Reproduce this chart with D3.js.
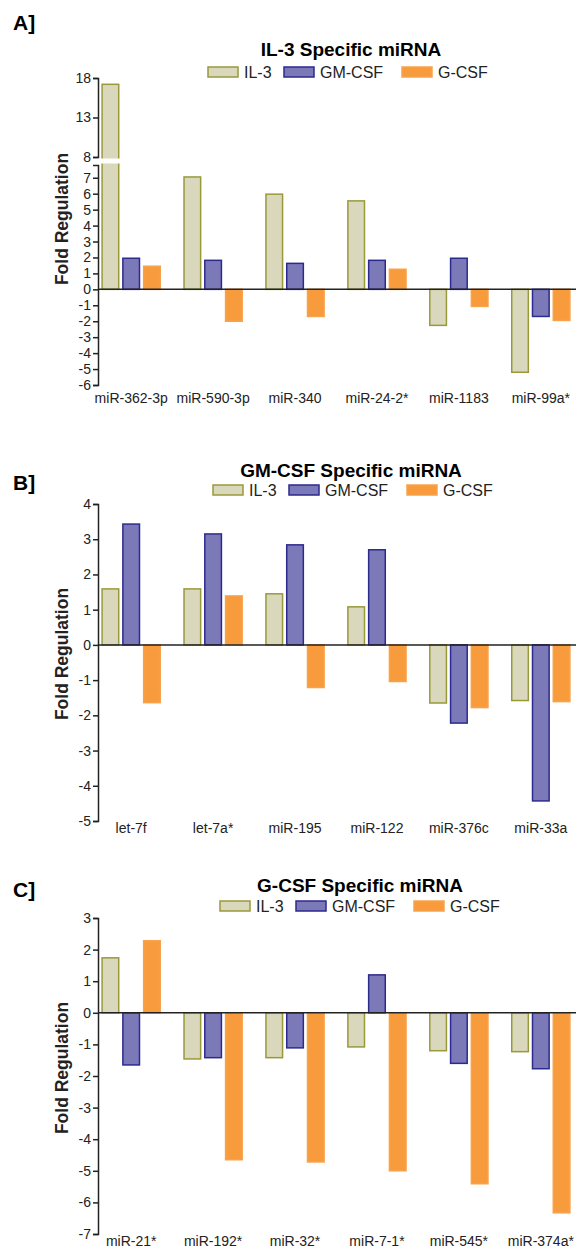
<!DOCTYPE html>
<html>
<head>
<meta charset="utf-8">
<script src="https://cdn.jsdelivr.net/npm/d3@7"></script>
<style>
  body { margin: 0; background: #fff; }
  text { font-family: "Liberation Sans", Arial, sans-serif; }
</style>
</head>
<body>
<div id="chart"></div>
<script>
const seriesNames = ["IL-3", "GM-CSF", "G-CSF"];
const fills = ["#d9d8bc", "#7c79b9", "#f89b3c"];
const strokes = ["#9a993a", "#2d2a8f", "#f7a24c"];

// panel A
const catsA = ["miR-362-3p", "miR-590-3p", "miR-340", "miR-24-2*", "miR-1183", "miR-99a*"];
const il3A = [17.2, 7.05, 5.97, 5.55, -2.26, -5.2];
const gmA = [1.95, 1.82, 1.63, 1.82, 1.95, -1.7];
const gcsfA = [1.45, -2.0, -1.7, 1.26, -1.07, -1.95];
const ticksAUpper = [8, 13, 18];
const ticksALower = [-6, -5, -4, -3, -2, -1, 0, 1, 2, 3, 4, 5, 6, 7];

// panel B
const catsB = ["let-7f", "let-7a*", "miR-195", "miR-122", "miR-376c", "miR-33a"];
const il3B = [1.59, 1.59, 1.45, 1.08, -1.65, -1.58];
const gmB = [3.43, 3.15, 2.84, 2.7, -2.22, -4.43];
const gcsfB = [-1.64, 1.39, -1.21, -1.04, -1.78, -1.61];
const ticksB = [-5, -4, -3, -2, -1, 0, 1, 2, 3, 4];

// panel C
const catsC = ["miR-21*", "miR-192*", "miR-32*", "miR-7-1*", "miR-545*", "miR-374a*"];
const il3C = [1.74, -1.46, -1.42, -1.08, -1.2, -1.23];
const gmC = [-1.65, -1.42, -1.11, 1.2, -1.6, -1.77];
const gcsfC = [2.28, -4.65, -4.72, -5.0, -5.41, -6.33];
const ticksC = [-7, -6, -5, -4, -3, -2, -1, 0, 1, 2, 3];

const W = 576, H = 1254;
const X0 = 98, X1 = 574;

const panels = [
  { letter: "A]", letterY: 30, title: "IL-3 Specific miRNA", titleX: 351, titleY: 56,
    legendX: 208, legendY: 67, cats: catsA, vals: [il3A, gmA, gcsfA],
    ticks: ticksALower, domain: [-6, 7.8], range: [385, 165],
    brk: { domain: [8, 18], range: [157, 78], ticks: ticksAUpper },
    labelY: 405, ylabY: 219 },
  { letter: "B]", letterY: 490, title: "GM-CSF Specific miRNA", titleX: 351, titleY: 477,
    legendX: 213, legendY: 485, cats: catsB, vals: [il3B, gmB, gcsfB],
    ticks: ticksB, domain: [-5, 4], range: [821, 504],
    labelY: 835, ylabY: 654 },
  { letter: "C]", letterY: 897, title: "G-CSF Specific miRNA", titleX: 360, titleY: 892,
    legendX: 220, legendY: 901, cats: catsC, vals: [il3C, gmC, gcsfC],
    ticks: ticksC, domain: [-7, 3], range: [1234, 918],
    labelY: 1248, ylabY: 1068 }
];

const svg = d3.select("#chart").append("svg")
  .attr("width", W).attr("height", H);

// plain hyphen for negatives, like the original figure
const fmt = d => String(d);

function styleAxis(g) {
  g.select(".domain").attr("stroke", "#222").attr("stroke-width", 1.5);
  g.selectAll(".tick line").attr("stroke", "#222").attr("stroke-width", 1.5);
  g.selectAll(".tick text").attr("fill", "#222").attr("font-size", 14)
    .attr("font-family", "Liberation Sans, Arial, sans-serif");
}

panels.forEach(p => {
  const g = svg.append("g");

  g.append("text").attr("x", 13).attr("y", p.letterY)
    .attr("font-size", 21).attr("font-weight", "bold").text(p.letter);

  g.append("text").attr("x", p.titleX).attr("y", p.titleY)
    .attr("text-anchor", "middle").attr("font-size", 19).attr("font-weight", "bold")
    .text(p.title);

  // legend
  const legOff = [0, 76, 194];
  seriesNames.forEach((s, i) => {
    const lx = p.legendX + legOff[i];
    g.append("rect").attr("x", lx).attr("y", p.legendY).attr("width", 30).attr("height", 10)
      .attr("fill", fills[i]).attr("stroke", strokes[i]).attr("stroke-width", 1.5);
    g.append("text").attr("x", lx + 36).attr("y", p.legendY + 10.5)
      .attr("font-size", 16).attr("fill", "#222").text(s);
  });

  const x = d3.scaleBand().domain(p.cats).range([X0, X1])
    .paddingInner(0.29).paddingOuter(0.05);
  const xs = d3.scaleBand().domain(seriesNames).range([0, x.bandwidth()])
    .paddingInner(0.2);

  const y = d3.scaleLinear().domain(p.domain).range(p.range);
  const yU = p.brk ? d3.scaleLinear().domain(p.brk.domain).range(p.brk.range) : null;
  const yv = v => (p.brk && v > p.domain[1]) ? yU(v) : y(v);

  // bars
  const rows = [];
  p.cats.forEach((c, ci) => seriesNames.forEach((s, si) => {
    rows.push({ cat: c, s: s, si: si, v: p.vals[si][ci] });
  }));

  g.selectAll("rect.bar").data(rows).enter().append("rect")
    .attr("class", "bar")
    .attr("x", d => x(d.cat) + xs(d.s))
    .attr("width", xs.bandwidth())
    .attr("y", d => Math.min(yv(d.v), y(0)))
    .attr("height", d => Math.abs(y(0) - yv(d.v)))
    .attr("fill", d => fills[d.si])
    .attr("stroke", d => strokes[d.si])
    .attr("stroke-width", 1.5);

  // axis break gap
  if (p.brk) {
    g.append("rect").attr("x", X0 - 3).attr("y", p.brk.range[0] + 1.5)
      .attr("width", x.bandwidth() / 2 + 14)
      .attr("height", p.range[1] - p.brk.range[0] - 3)
      .attr("fill", "#fff");
  }

  // baseline
  g.append("line").attr("x1", X0).attr("x2", W)
    .attr("y1", y(0)).attr("y2", y(0))
    .attr("stroke", "#222").attr("stroke-width", 1.5);

  // y axis
  const ya = g.append("g").attr("transform", `translate(${X0},0)`)
    .call(d3.axisLeft(y).tickValues(p.ticks).tickFormat(fmt)
      .tickSize(5).tickSizeOuter(5).tickPadding(2));
  styleAxis(ya);

  if (p.brk) {
    const yb = g.append("g").attr("transform", `translate(${X0},0)`)
      .call(d3.axisLeft(yU).tickValues(p.brk.ticks).tickFormat(fmt)
        .tickSize(5).tickSizeOuter(5).tickPadding(2));
    styleAxis(yb);
  }

  // category labels
  const xa = g.append("g").attr("transform", `translate(0,${p.labelY - 12})`)
    .call(d3.axisBottom(x).tickSize(0).tickPadding(0));
  xa.select(".domain").remove();
  xa.selectAll(".tick text").attr("fill", "#222").attr("font-size", 14)
    .attr("font-family", "Liberation Sans, Arial, sans-serif")
    .attr("dy", "0.71em");

  // y label
  g.append("text")
    .attr("transform", `translate(68,${p.ylabY}) rotate(-90)`)
    .attr("text-anchor", "middle").attr("font-size", 17.5).attr("font-weight", "bold")
    .attr("fill", "#222").text("Fold Regulation");
});
</script>
</body>
</html>
